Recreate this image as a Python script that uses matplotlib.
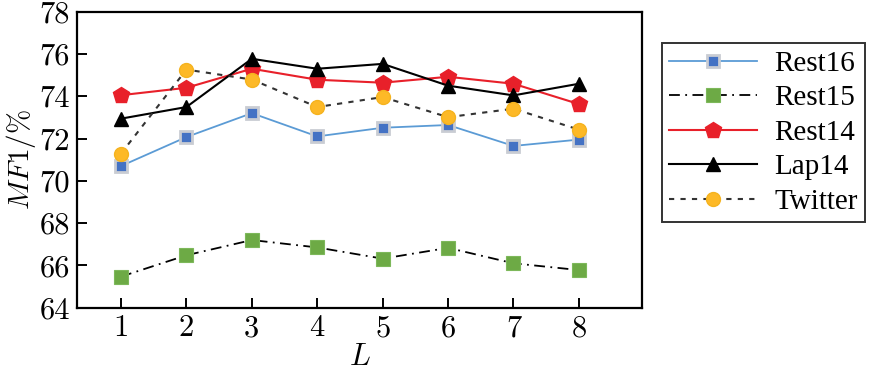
import numpy as np
from matplotlib import pyplot as plt

plt.rcParams['mathtext.fontset'] = 'cm'
plt.rcParams['axes.unicode_minus'] = False
plt.rcParams['font.serif'] = ['Liberation Serif', 'DejaVu Serif']

layers = [1, 2, 3, 4, 5, 6, 7, 8]
rest16 = [70.70, 72.07, 73.20, 72.10, 72.51, 72.64, 71.65, 71.95]
rest15 = [65.47, 66.48, 67.20, 66.85, 66.32, 66.83, 66.10, 65.78]
rest14 = [74.05, 74.40, 75.30, 74.78, 74.64, 74.92, 74.59, 73.63]
lap14 = [72.94, 73.49, 75.77, 75.30, 75.53, 74.50, 74.04, 74.59]
twitter = [71.29, 75.26, 74.79, 73.49, 73.96, 73.01, 73.41, 72.42]
yticks = [64, 66, 68, 70, 72, 74, 76, 78]

fig = plt.figure(figsize=(8.84, 3.71), dpi=100)
ax = fig.add_axes([0.0871, 0.1706, 0.639, 0.798])

ax.plot(layers, rest16, color='#5B9BD5', lw=1.3, marker='s', ms=9,
        mfc='#4472C4', mec='#C9CCD3', mew=2, label='Rest16')
ax.plot(layers, rest15, color='black', lw=1.3, ls=(0, (6, 3, 1, 3)), marker='s', ms=10,
        mfc='#6DAA45', mec='#7DB85A', mew=0.8, label='Rest15')
ax.plot(layers, rest14, color='#E8202A', lw=1.5, marker='p', ms=12,
        mfc='#E8202A', mec='#E8202A', label='Rest14')
ax.plot(layers, lap14, color='black', lw=1.5, marker='^', ms=10,
        mfc='black', mec='black', label='Lap14')
ax.plot(layers, twitter, color='#333333', lw=1.5, ls=(0, (2.5, 3)), marker='o', ms=10,
        mfc='#FDB927', mec='#F5B31F', label='Twitter')

ax.set_xlim(0.327, 8.963)
ax.set_ylim(64, 78)
ax.set_xticks(layers)
ax.set_yticks(yticks)
for s in ax.spines.values():
    s.set_linewidth(1.6)
ax.tick_params(direction='in', length=7, width=1.4, labelsize=22, pad=5)
for t in ax.get_xticklabels() + ax.get_yticklabels():
    t.set_fontfamily('cmr10')

ax.set_xlabel(r'$L$', fontsize=22, labelpad=0)
ax.set_ylabel(r'$\mathit{MF1/\%}$', fontsize=21, labelpad=1)

leg = fig.legend(loc='upper left', bbox_to_anchor=(0.749, 0.884), numpoints=1,
                 prop={'family': 'serif', 'size': 21},
                 handlelength=3.0, handletextpad=0.6, labelspacing=0.28,
                 borderpad=0.25, borderaxespad=0, fancybox=False, edgecolor='black')
leg.get_frame().set_linewidth(1.4)

plt.savefig('out.png', dpi=100)
